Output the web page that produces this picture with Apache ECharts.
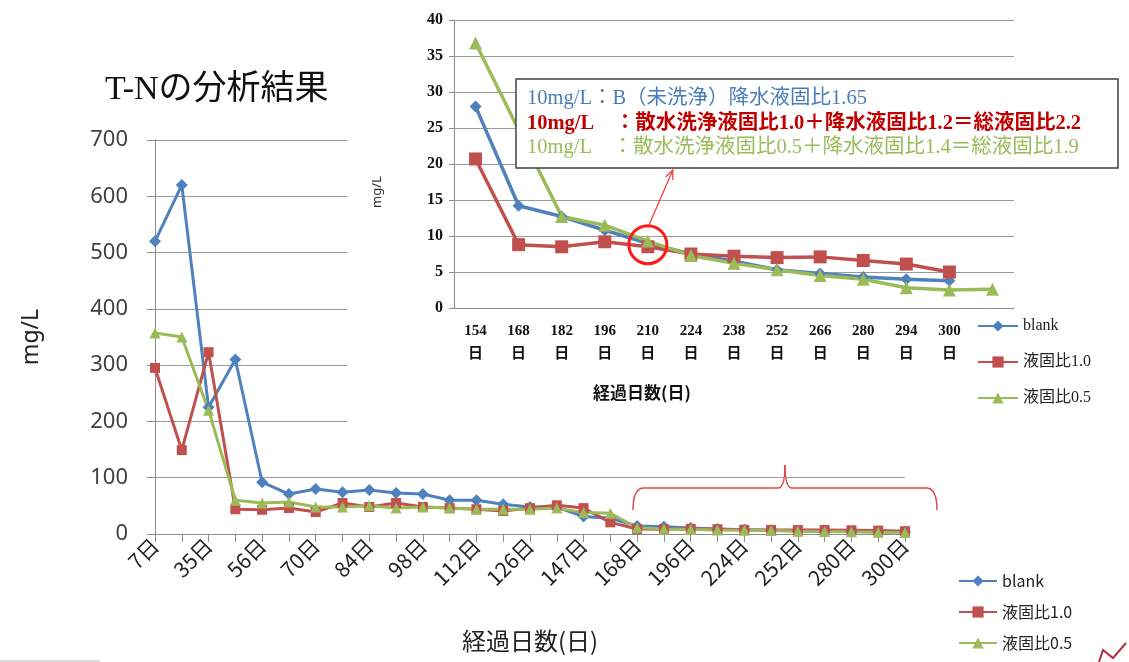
<!DOCTYPE html>
<html><head><meta charset="utf-8">
<script src="https://cdn.jsdelivr.net/npm/echarts@6/dist/echarts.min.js"></script>
<style>
html,body{margin:0;padding:0;background:#fff;}
#main{position:absolute;left:0;top:0;width:1129px;height:662px;}
#inset{position:absolute;left:347px;top:0;width:782px;height:445px;background:#fff;}
</style></head><body>
<div id="main"></div><div id="inset"></div>
<script>
// ---- data ----
const seriesNames = ['blank', '液固比1.0', '液固比0.5'];
const mainCats = ['7日','21日','35日','49日','56日','63日','70日','77日','84日','91日','98日','105日','112日','119日','126日','140日','147日','154日','168日','182日','196日','210日','224日','238日','252日','266日','280日','294日','300日'];
const mainBlank   = [520,620,225,310,92,71,80,74,78,73,71,60,60,53,48,48,31,28,14.2,12.7,10.8,9,7.5,6.5,5.3,4.8,4.3,4.0,3.8];
const mainRatio10 = [295,149,323,44,43,46,39,55,48,55,48,46,44,41,46,51,46,20.7,8.8,8.5,9.2,8.5,7.5,7.2,7.0,7.1,6.6,6.1,5.0];
const mainRatio05 = [357,350,220,60,55,57,48,48,50,46,48,46,44,44,44,46,38,36.8,11,9,8,7,6.5,6,5,4.5,4,3,2.5];

const insetCats   = ['154日','168日','182日','196日','210日','224日','238日','252日','266日','280日','294日','300日',''];
const insetBlank   = [28,14.2,12.7,10.8,9.0,7.5,6.5,5.3,4.8,4.3,4.0,3.8,null];
const insetRatio10 = [20.7,8.8,8.5,9.2,8.5,7.5,7.2,7.0,7.1,6.6,6.1,5.0,null];
const insetRatio05 = [36.8,null,12.7,11.5,9.3,7.3,6.2,5.3,4.5,4.0,2.8,2.5,2.6];

const noteLines = [
  '10mg/L：B（未洗浄）降水液固比1.65',
  '10mg/L　：散水洗浄液固比1.0＋降水液固比1.2＝総液固比2.2',
  '10mg/L　：散水洗浄液固比0.5＋降水液固比1.4＝総液固比1.9'
];

// ---- styles ----
const SANS = "'Noto Sans', 'Noto Sans CJK JP', sans-serif";
const CJK = "'Noto Sans CJK JP', sans-serif";
const SERIF = "'Liberation Serif', 'Noto Sans CJK JP', serif";
const COLORS = ['#4F81BD', '#C0504D', '#9BBB59'];
const SYMBOLS = ['diamond', 'rect', 'triangle'];

function mkSeries(datas, sizes, width, connect) {
  return datas.map((d, i) => ({
    name: seriesNames[i], type: 'line', data: d,
    symbol: SYMBOLS[i], symbolSize: sizes[i], showSymbol: true,
    connectNulls: !!connect,
    lineStyle: { width: width, color: COLORS[i] },
    itemStyle: { color: COLORS[i] },
    emphasis: { disabled: true }
  }));
}

const BR = { fill: null, stroke: '#e04848', lineWidth: 1.5 };

// ---- main chart ----
const main = echarts.init(document.getElementById('main'), null, { renderer: 'canvas' });
main.setOption({
  animation: false,
  color: COLORS,
  title: { text: 'T-Nの分析結果', left: 100, top: 68,
    textStyle: { fontFamily: SERIF, fontSize: 34, fontWeight: 'normal', color: '#111' } },
  legend: { orient: 'vertical', left: 953, top: 568, itemWidth: 38, itemHeight: 14, itemGap: 15,
    data: seriesNames, textStyle: { fontFamily: CJK, fontSize: 16, color: '#222' } },
  grid: { left: 155, right: 224, top: 140, bottom: 128 },
  xAxis: {
    type: 'category', data: mainCats, boundaryGap: false,
    axisLine: { lineStyle: { color: '#8c8c8c' } },
    axisTick: { interval: 0, length: 8, lineStyle: { color: '#8c8c8c' } },
    axisLabel: { interval: 1, rotate: 45, fontFamily: CJK, fontSize: 21, color: '#222', margin: 8 },
    name: '経過日数(日)', nameLocation: 'middle', nameGap: 95,
    nameTextStyle: { fontFamily: CJK, fontSize: 24, color: '#222' }
  },
  yAxis: {
    type: 'value', min: 0, max: 700, interval: 100,
    axisLine: { show: true, lineStyle: { color: '#8c8c8c' } },
    axisTick: { show: true, length: 8, lineStyle: { color: '#8c8c8c' } },
    splitLine: { lineStyle: { color: '#9a9a9a' } },
    axisLabel: { fontFamily: SANS, fontSize: 22, color: '#404040', margin: 27 },
    name: 'mg/L', nameLocation: 'middle', nameGap: 112,
    nameTextStyle: { fontFamily: SANS, fontSize: 23, color: '#222' }
  },
  series: mkSeries([mainBlank, mainRatio10, mainRatio05], [12, 10, 11], 3, false),
  graphic: [
    { type: 'bezierCurve', shape: { x1: 633, y1: 510, cpx1: 633, cpy1: 489, x2: 643, y2: 488 }, style: BR },
    { type: 'line', shape: { x1: 643, y1: 488, x2: 778, y2: 488 }, style: BR },
    { type: 'bezierCurve', shape: { x1: 778, y1: 488, cpx1: 785, cpy1: 488, x2: 785, y2: 465 }, style: BR },
    { type: 'bezierCurve', shape: { x1: 785, y1: 465, cpx1: 785, cpy1: 488, x2: 792, y2: 488 }, style: BR },
    { type: 'line', shape: { x1: 792, y1: 488, x2: 927, y2: 488 }, style: BR },
    { type: 'bezierCurve', shape: { x1: 927, y1: 488, cpx1: 937, cpy1: 489, x2: 937, y2: 510 }, style: BR },
    { type: 'line', shape: { x1: 0, y1: 661, x2: 100, y2: 661 }, style: { stroke: '#bbbbbb', lineWidth: 1 } },
    { type: 'polyline', shape: { points: [[1099, 662], [1103, 650], [1113, 658], [1126, 643]] },
      style: { fill: null, stroke: '#b03048', lineWidth: 2 } }
  ]
});

// ---- inset chart ----
const inset = echarts.init(document.getElementById('inset'), null, { renderer: 'canvas' });
inset.setOption({
  animation: false,
  color: COLORS,
  legend: { orient: 'vertical', left: 625, top: 313, itemWidth: 40, itemHeight: 14, itemGap: 20,
    data: seriesNames, textStyle: { fontFamily: SERIF, fontSize: 16, color: '#222' } },
  grid: { left: 107, right: 115, top: 20, bottom: 137 },
  xAxis: {
    type: 'category', data: insetCats, boundaryGap: true,
    axisLine: { lineStyle: { color: '#8c8c8c' } },
    axisTick: { interval: 0, length: 6, lineStyle: { color: '#8c8c8c' } },
    axisLabel: { interval: 0, fontFamily: SERIF, fontWeight: 'bold', fontSize: 15, color: '#111',
      lineHeight: 23, margin: 12, formatter: v => v ? v.replace('日', '\n日') : '' }
  },
  yAxis: {
    type: 'value', min: 0, max: 40, interval: 5,
    axisLine: { show: true, lineStyle: { color: '#8c8c8c' } },
    axisTick: { show: true, length: 5, lineStyle: { color: '#8c8c8c' } },
    splitLine: { lineStyle: { color: '#9a9a9a' } },
    axisLabel: { fontFamily: SERIF, fontWeight: 'bold', fontSize: 16, color: '#111', margin: 11 }
  },
  series: mkSeries([insetBlank, insetRatio10, insetRatio05], [12, 13, 13], 3.5, true)
});

const c = inset.convertToPixel({ xAxisIndex: 0, yAxisIndex: 0 }, ['210日', 8.8]);
const r = 19;
const ax1 = c[0], ay1 = c[1] - r + 2, ax2 = c[0] + 25, ay2 = 170;
const ang = Math.atan2(ay2 - ay1, ax2 - ax1);
const hl = 10;
inset.setOption({
  graphic: [
    { type: 'text', x: 30, y: 192, rotation: Math.PI / 2,
      style: { text: 'mg/L', fontFamily: SANS, fontSize: 13, fill: '#333', align: 'center', verticalAlign: 'middle' } },
    { type: 'text', x: 295, y: 393,
      style: { text: '経過日数(日)', fontFamily: CJK, fontWeight: 'bold', fontSize: 17, fill: '#111', align: 'center', verticalAlign: 'middle' } },
    { type: 'circle', shape: { cx: c[0], cy: c[1], r: r }, style: { fill: null, stroke: '#ff1a1a', lineWidth: 3 }, z: 100 },
    { type: 'line', shape: { x1: ax1, y1: ay1, x2: ax2, y2: ay2 }, style: { stroke: '#ff3030', lineWidth: 1.2 }, z: 100 },
    { type: 'polyline', shape: { points: [
        [ax2 - hl * Math.cos(ang - 0.4), ay2 - hl * Math.sin(ang - 0.4)], [ax2, ay2],
        [ax2 - hl * Math.cos(ang + 0.4), ay2 - hl * Math.sin(ang + 0.4)]] },
      style: { fill: null, stroke: '#ff3030', lineWidth: 1.2 }, z: 100 },
    { type: 'rect', shape: { x: 169, y: 79, width: 602, height: 89 },
      style: { fill: '#fff', stroke: '#404040', lineWidth: 1.5 }, z: 100 },
    { type: 'text', x: 180, y: 99, z: 101,
      style: { text: noteLines[0], fontFamily: SERIF, fontSize: 20.5, fill: '#4a7ebb', verticalAlign: 'middle' } },
    { type: 'text', x: 180, y: 124, z: 101,
      style: { text: noteLines[1], fontFamily: SERIF, fontSize: 20.5, fontWeight: 'bold', fill: '#c00000', verticalAlign: 'middle' } },
    { type: 'text', x: 180, y: 148, z: 101,
      style: { text: noteLines[2], fontFamily: SERIF, fontSize: 20.5, fill: '#9bbb59', verticalAlign: 'middle' } }
  ]
});
</script></body></html>
